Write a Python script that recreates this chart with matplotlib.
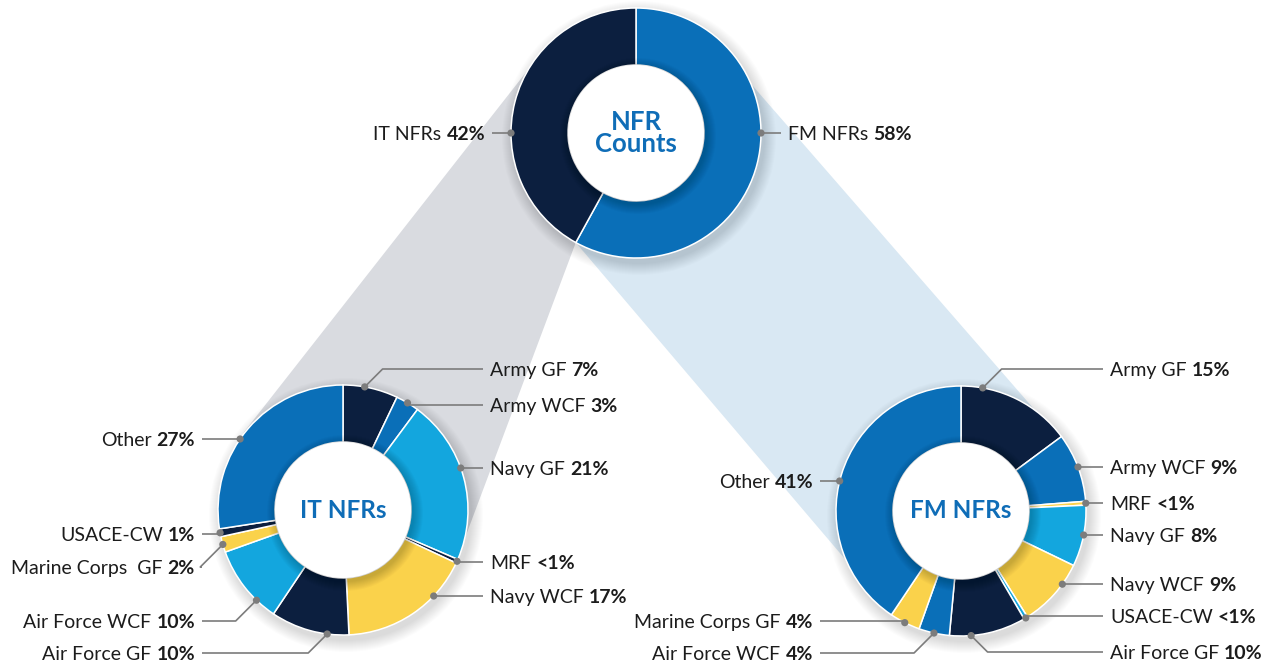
import matplotlib.pyplot as plt
from matplotlib.patches import Circle, Polygon
import numpy as np

plt.rcParams['font.family'] = ['Lato', 'DejaVu Sans']

# ---- data ----
top_names = ['FM NFRs', 'IT NFRs']
top_values = [58, 42]
top_pcts = ['58%', '42%']

it_names = ['Army GF', 'Army WCF', 'Navy GF', 'MRF', 'Navy WCF',
            'Air Force GF', 'Air Force WCF', 'Marine Corps  GF', 'USACE-CW', 'Other']
it_values = [7, 3, 21, 0.5, 17, 10, 10, 2, 1, 27]
it_pcts = ['7%', '3%', '21%', '<1%', '17%', '10%', '10%', '2%', '1%', '27%']

fm_names = ['Army GF', 'Army WCF', 'MRF', 'Navy GF', 'Navy WCF', 'USACE-CW',
            'Air Force GF', 'Air Force WCF', 'Marine Corps GF', 'Other']
fm_values = [15, 9, 0.5, 8, 9, 0.5, 10, 4, 4, 41]
fm_pcts = ['15%', '9%', '<1%', '8%', '9%', '<1%', '10%', '4%', '4%', '41%']

# ---- style / layout ----
NAVY = '#0c1f3f'
BLUE = '#0a6fb8'
LIGHT = '#13a6de'
YELLOW = '#fad24b'
TEXT = '#1c1c1c'
LINE = '#7c7c7c'
FS = 14

top_colors = [BLUE, NAVY]
it_colors = [NAVY, BLUE, LIGHT, NAVY, YELLOW, NAVY, LIGHT, YELLOW, NAVY, BLUE]
fm_colors = [NAVY, BLUE, YELLOW, LIGHT, YELLOW, LIGHT, NAVY, BLUE, YELLOW, BLUE]

W, H = 1270, 666
R, R_IN = 125, 68

# label rows (image pixel y) and which side of the donut they sit on
top_label_y = [133, 133]
top_sides = ['R', 'L']
it_label_y = [369, 405, 468, 562, 596, 653, 621, 567, 534, 439]
it_sides = ['R'] * 5 + ['L'] * 5
fm_label_y = [369, 467, 503, 535, 584, 616, 652, 653, 621, 481]
fm_sides = ['R'] * 7 + ['L'] * 3


def to_xy(cx, cy, ang, r=R):
    # ang: degrees clockwise from 12 o'clock, centre in image pixels -> data coords
    a = np.radians(ang)
    return cx + r * np.sin(a), H - (cy - r * np.cos(a))


def spans(values):
    v = np.asarray(values, float)
    edges = np.concatenate([[0], np.cumsum(v)]) / v.sum() * 360
    return list(zip(edges[:-1], edges[1:]))


fig = plt.figure(figsize=(W / 100, H / 100), dpi=100)
ax = fig.add_axes([0, 0, 1, 1])
renderer = fig.canvas.get_renderer()

TOP = (636, 133)
IT = (343, 510)
FM = (961, 511)

# ---- connecting bands ----
def centre(c):
    return np.array([c[0], H - c[1]], float)


t_c, i_c, f_c = centre(TOP), centre(IT), centre(FM)
split = spans(top_values)[0][1]
b_pt = np.array(to_xy(*TOP, split))

d = (i_c - t_c) / np.linalg.norm(i_c - t_c)
n_left = np.array([d[1], -d[0]])
if n_left[0] > 0:
    n_left = -n_left
gray = [t_c + n_left * 124, t_c, b_pt, np.array(to_xy(*IT, 103.5)), i_c, i_c + n_left * 126]
ax.add_patch(Polygon(gray, closed=True, fc='#d9dbe0', ec='none', zorder=0))

d = (f_c - t_c) / np.linalg.norm(f_c - t_c)
n_right = np.array([-d[1], d[0]])
if n_right[0] < 0:
    n_right = -n_right
blue = [t_c + n_right * 119, f_c + n_right * 122, f_c, np.array(to_xy(*FM, 246.7)), b_pt, t_c]
ax.add_patch(Polygon(blue, closed=True, fc='#d9e8f3', ec='none', zorder=0))


# ---- donuts ----
def donut(c, values, colors, title, fsize):
    cx, cy = c[0], H - c[1]
    for k in range(12):
        ax.add_patch(Circle((cx + 3, cy - 5), R + 12 - k, fc='black', alpha=0.011, lw=0, zorder=1))
    wedges, _ = ax.pie(values, colors=colors, startangle=90, counterclock=False,
                       radius=R, center=(cx, cy), normalize=True,
                       wedgeprops=dict(width=R - R_IN, edgecolor='white', linewidth=1.1))
    for w in wedges:
        w.set_zorder(2)
    for k in range(10):
        ax.add_patch(Circle((cx + 2, cy - 3), R_IN + 10 - k, fc='black', alpha=0.018, lw=0, zorder=3))
    ax.add_patch(Circle((cx, cy), R_IN, fc='white', ec='none', zorder=4))
    ax.text(cx, cy, title, ha='center', va='center', fontsize=fsize, fontweight='bold',
            color='#0f6db7', linespacing=0.95, zorder=6)


donut(TOP, top_values, top_colors, 'NFR\nCounts', 18.5)
donut(IT, it_values, it_colors, 'IT NFRs', 17.5)
donut(FM, fm_values, fm_colors, 'FM NFRs', 17.5)


# ---- labels ----
def text_width(t):
    return t.get_window_extent(renderer=renderer).width


def labels(c, values, names, pcts, ys, sides, x_right, x_left):
    cx, cy = c
    for (lo, hi), name, pct, y_img, side in zip(spans(values), names, pcts, ys, sides):
        cosv = np.clip((cy - y_img) / R, -1, 1)
        a = np.degrees(np.arccos(cosv))
        if side == 'L':
            a = 360 - a
        m = min(10, (hi - lo) / 2)
        a = np.clip(a, lo + m, hi - m)
        px, py = to_xy(cx, cy, a)
        ly = H - y_img
        s = 1 if side == 'R' else -1
        tx = x_right if side == 'R' else x_left
        ex = px + s * abs(ly - py)
        ax.plot([px, ex, tx - s * 7], [py, ly, ly], color=LINE, lw=1.2,
                solid_capstyle='butt', zorder=5)
        ax.add_patch(Circle((px, py), 3.6, fc=LINE, ec='none', zorder=7))
        yb = ly - 7
        if side == 'R':
            t = ax.text(tx, yb, name, ha='left', va='baseline', fontsize=FS, color=TEXT)
            ax.text(tx + text_width(t) + 5, yb, pct, ha='left', va='baseline',
                    fontsize=FS, fontweight='bold', color=TEXT)
        else:
            t = ax.text(tx, yb, pct, ha='right', va='baseline', fontsize=FS,
                        fontweight='bold', color=TEXT)
            ax.text(tx - text_width(t) - 5, yb, name, ha='right', va='baseline',
                    fontsize=FS, color=TEXT)


labels(TOP, top_values, top_names, top_pcts, top_label_y, top_sides, 788, 485)
labels(IT, it_values, it_names, it_pcts, it_label_y, it_sides, 490, 195)
labels(FM, fm_values, fm_names, fm_pcts, fm_label_y, fm_sides, 1110, 813)

ax.set_xlim(0, W)
ax.set_ylim(0, H)
ax.set_aspect('equal')
ax.axis('off')
fig.savefig('out.png', dpi=100, facecolor='white')
